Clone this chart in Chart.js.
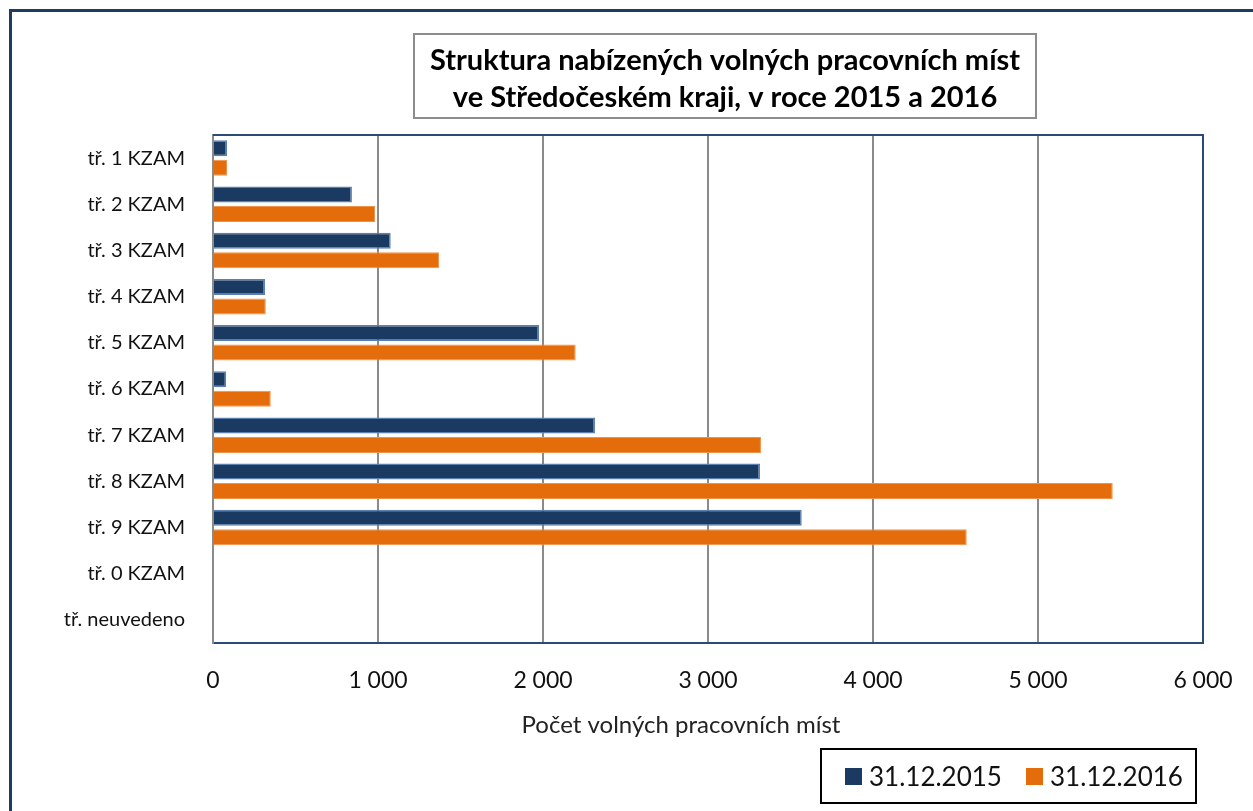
<!DOCTYPE html>
<html>
<head>
<meta charset="utf-8">
<script src="https://cdn.jsdelivr.net/npm/chart.js@4/dist/chart.umd.min.js"></script>
<style>
html,body{margin:0;padding:0;background:#fff;}
#wrap{width:1253px;height:811px;position:relative;}
</style>
</head>
<body>
<div id="wrap"><canvas id="c" width="1253" height="811"></canvas></div>
<script>
const categories = ["tř. 1 KZAM","tř. 2 KZAM","tř. 3 KZAM","tř. 4 KZAM","tř. 5 KZAM","tř. 6 KZAM","tř. 7 KZAM","tř. 8 KZAM","tř. 9 KZAM","tř. 0 KZAM","tř. neuvedeno"];
const series2015 = [85, 842, 1077, 315, 1976, 80, 2315, 3315, 3568, 0, 0];
const series2016 = [85, 982, 1370, 320, 2198, 350, 3321, 5453, 4568, 0, 0];
const seriesNames = ["31.12.2015", "31.12.2016"];
const xTicks = [0, 1000, 2000, 3000, 4000, 5000, 6000];
const titleLines = ["Struktura nabízených volných pracovních míst", "ve Středočeském kraji, v roce 2015 a 2016"];
const xAxisTitle = "Počet volných pracovních míst";

const NAVY = '#1b3a61', NAVY_B = '#5a80b2', ORANGE = '#e46c0a', ORANGE_B = '#f0934a';
const FONT = 'Lato, "Open Sans", sans-serif';

const decor = {
  id: 'decor',
  beforeDraw(chart) {
    const ctx = chart.ctx;
    ctx.save();
    ctx.fillStyle = '#fff';
    ctx.fillRect(0, 0, chart.width, chart.height);
    ctx.restore();
  },
  afterDraw(chart) {
    const ctx = chart.ctx, a = chart.chartArea;
    ctx.save();
    // outer frame
    ctx.strokeStyle = '#1f3b63';
    ctx.lineWidth = 3;
    ctx.beginPath();
    ctx.moveTo(10.5, 811); ctx.lineTo(10.5, 10.5); ctx.lineTo(1253, 10.5);
    ctx.stroke();
    // plot frame top/right
    ctx.strokeStyle = '#2a4a78';
    ctx.lineWidth = 2;
    ctx.beginPath();
    ctx.moveTo(a.left, a.top); ctx.lineTo(a.right, a.top); ctx.lineTo(a.right, a.bottom);
    ctx.stroke();
    // title box
    ctx.strokeStyle = '#8c8c8c';
    ctx.lineWidth = 2;
    ctx.strokeRect(414, 34, 622, 84);
    ctx.fillStyle = '#000';
    ctx.font = 'bold 29px ' + FONT;
    ctx.textAlign = 'center';
    ctx.textBaseline = 'alphabetic';
    ctx.fillText(titleLines[0], 725, 70);
    ctx.fillText(titleLines[1], 725, 107);
    // x axis title
    ctx.font = '24px ' + FONT;
    ctx.fillStyle = '#222';
    ctx.fillText(xAxisTitle, 681, 733);
    // legend box
    ctx.strokeStyle = '#000';
    ctx.lineWidth = 2;
    ctx.strokeRect(821, 749, 375, 54);
    ctx.fillStyle = NAVY;
    ctx.fillRect(845, 768, 17, 17);
    ctx.fillStyle = ORANGE;
    ctx.fillRect(1026, 768, 17, 17);
    ctx.fillStyle = '#111';
    ctx.font = '26px ' + FONT;
    ctx.textAlign = 'left';
    ctx.fillText(seriesNames[0], 869, 786);
    ctx.fillText(seriesNames[1], 1050, 786);
    ctx.restore();
  }
};

new Chart(document.getElementById('c'), {
  type: 'bar',
  data: {
    labels: categories,
    datasets: [
      { label: seriesNames[0], data: series2015, backgroundColor: NAVY, borderColor: NAVY_B, borderWidth: 1.5, borderSkipped: 'left',
        categoryPercentage: 0.845, barPercentage: 0.82 },
      { label: seriesNames[1], data: series2016, backgroundColor: ORANGE, borderColor: ORANGE_B, borderWidth: 1, borderSkipped: 'left',
        categoryPercentage: 0.845, barPercentage: 0.82 }
    ]
  },
  options: {
    indexAxis: 'y',
    responsive: false,
    animation: false,
    layout: { padding: { left: 0, top: 135, right: 50, bottom: 108 } },
    plugins: { legend: { display: false }, title: { display: false }, tooltip: { enabled: false } },
    scales: {
      x: {
        min: 0, max: 6000,
        afterBuildTicks(scale) { scale.ticks = xTicks.map(v => ({ value: v })); },
        afterFit(scale) { scale.height = 60; scale.paddingLeft = 0; scale.paddingRight = 0; },
        grid: { color: '#8a8a8a', lineWidth: 2, drawTicks: false },
        border: { color: '#2a4a78', width: 2 },
        ticks: {
          padding: 24,
          color: '#111',
          font: { family: FONT, size: 23 },
          callback: v => String(v).replace(/\B(?=(\d{3})+(?!\d))/g, ' ')
        }
      },
      y: {
        afterFit(scale) { scale.width = 213; scale.paddingTop = 0; scale.paddingBottom = 0; },
        grid: { display: false, drawTicks: false },
        border: { color: '#8a8a8a', width: 2 },
        ticks: { padding: 28, color: '#111', font: { family: FONT, size: 20 } }
      }
    }
  },
  plugins: [decor]
});
</script>
</body>
</html>
